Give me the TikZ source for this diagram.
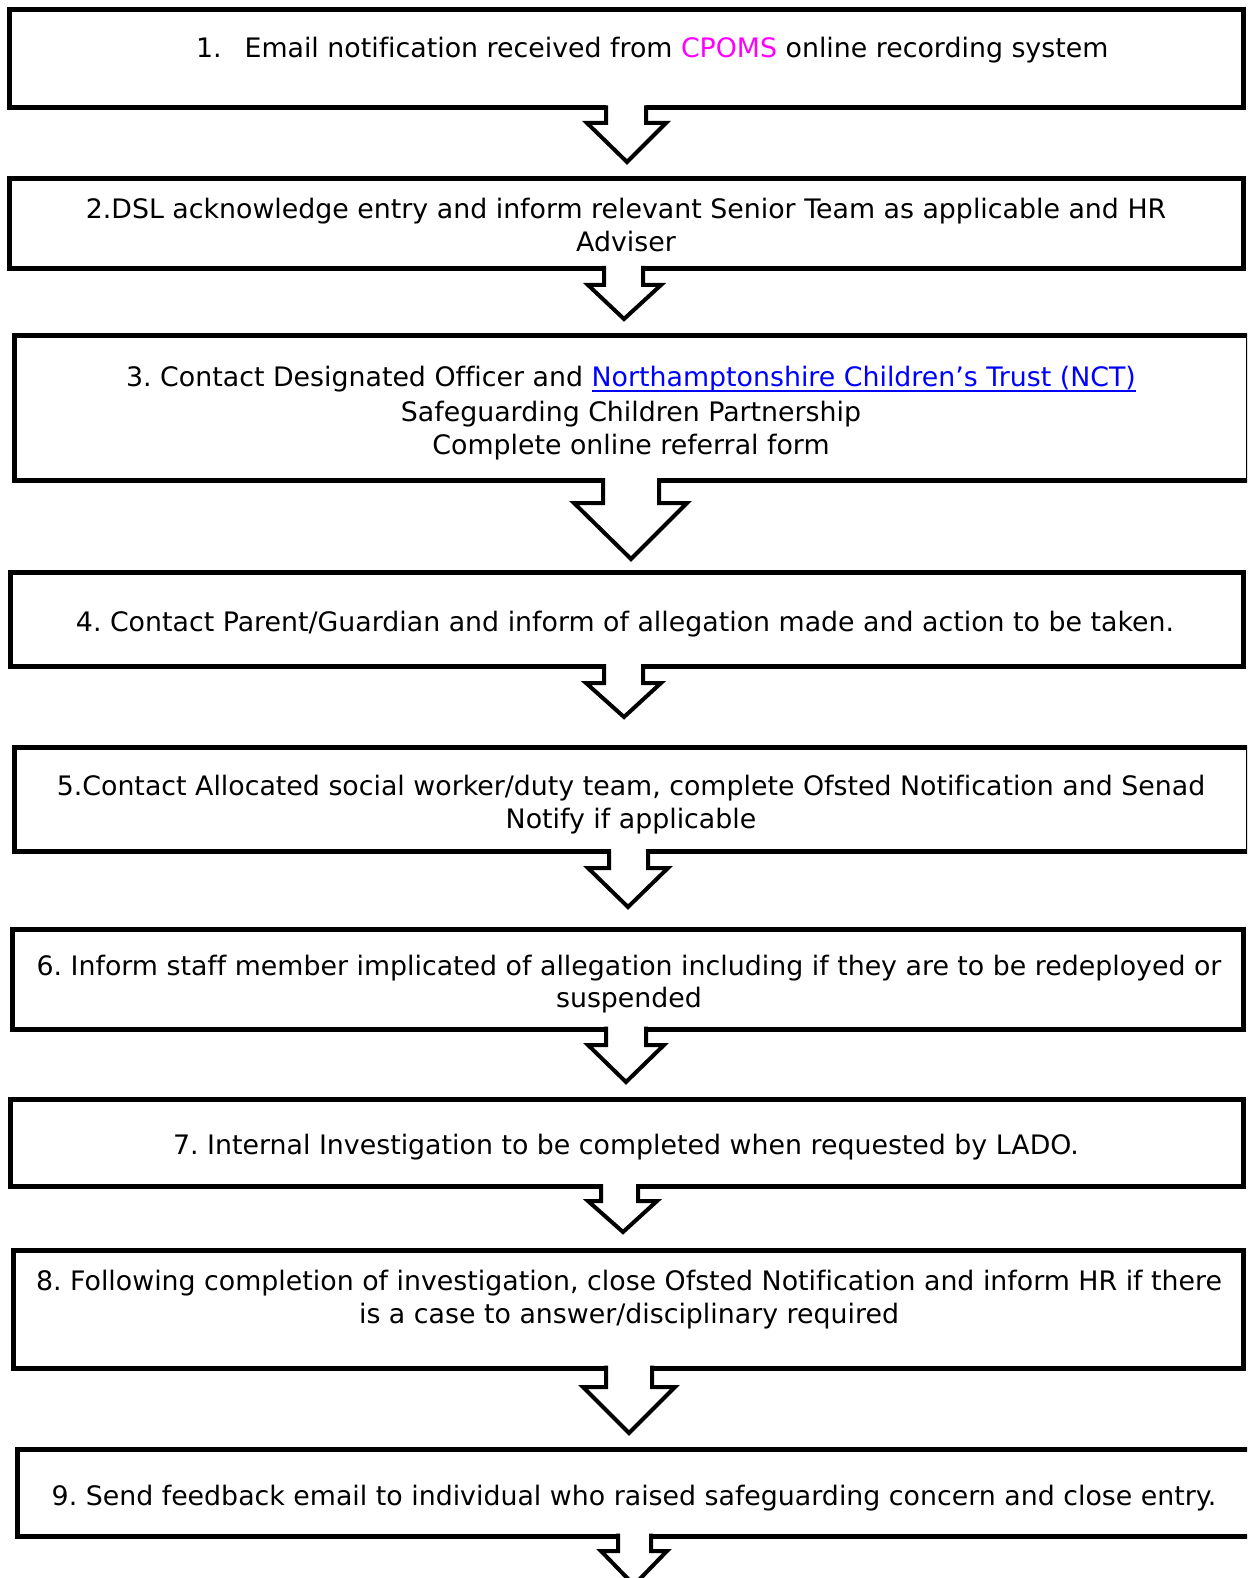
\documentclass[tikz,border=0pt]{standalone}
\usepackage{fontspec}
\setmainfont[Ligatures=NoCommon]{DejaVu Sans}
\definecolor{cpoms}{RGB}{255,0,255}
\definecolor{linkblue}{RGB}{0,0,255}
\newsavebox\ulbox
\newcommand\ulink[1]{\sbox\ulbox{#1}\rlap{\vrule width\wd\ulbox height -3pt depth 5pt}\usebox\ulbox}
\newcommand\mkbox[5]{\node[flowbox, minimum width={#4-#2}, minimum height={#5-#3}] (#1) at ({(#2+#4)/2},{(#3+#5)/2}) {};}
% block arrow: top y, stem left, stem right, shoulder y, head left, head right, tip x, tip y
\newcommand\blockarr[8]{%
  \fill[white] (#2,#1-3) -- (#2,#4) -- (#5,#4) -- (#7,#8) -- (#6,#4) -- (#3,#4) -- (#3,#1-3) -- cycle;
  \draw[arrline] (#2,#1-2.5) -- (#2,#4) -- (#5,#4) -- (#7,#8) -- (#6,#4) -- (#3,#4) -- (#3,#1-2.5);}
\begin{document}
\frenchspacing
\begin{tikzpicture}[x=1pt,y=-1pt,
  flowbox/.style={draw=black, line width=5pt, fill=white, inner sep=0pt, outer sep=0pt},
  arrline/.style={draw=black, line width=4pt, line join=miter},
  txt/.style={inner sep=0pt, outer sep=0pt, font=\fontsize{26.8}{33}\selectfont\frenchspacing, anchor=base}]
\useasboundingbox (0,0) rectangle (1247,1578);
\clip (0,0) rectangle (1247,1578);
\fill[white] (0,0) rectangle (1247,1578);
% boxes
\mkbox{b1}{9.5}{9.5}{1243}{108}
\mkbox{b2}{9.5}{179}{1243}{268.5}
\mkbox{b3}{14}{335}{1248}{480.5}
\mkbox{b4}{10}{572.5}{1243}{666.5}
\mkbox{b5}{14}{747}{1248}{851.5}
\mkbox{b6}{12}{929.5}{1243}{1029}
\mkbox{b7}{10}{1099}{1243}{1186.5}
\mkbox{b8}{13}{1250}{1243}{1368}
\mkbox{b9}{17}{1449}{1270}{1536}
% arrows
\blockarr{108}{606}{646}{123}{587}{666}{627}{162}
\blockarr{268.5}{604}{643}{285}{588}{661}{624}{319}
\blockarr{480.5}{603}{659}{503}{574}{687}{631}{559}
\blockarr{666.5}{604}{643}{683}{586}{661}{624}{717}
\blockarr{851.5}{609}{648}{868}{588}{668}{628}{907}
\blockarr{1029}{606}{646}{1045}{588}{664}{626}{1082}
\blockarr{1186.5}{601}{638}{1201}{588}{657}{623}{1232}
\blockarr{1368}{606}{652}{1387}{583}{675}{629}{1433}
\blockarr{1536}{618}{651}{1551}{601}{667}{634}{1585}
% texts
\node[txt, anchor=base west] (t1) at (196,58) {1.\hspace{23pt}Email notification received from \textcolor{cpoms}{CPOMS} online recording system};
\node[txt] (t2a) at (626,219) {2.DSL acknowledge entry and inform relevant Senior Team as applicable and HR};
\node[txt] (t2b) at (626,252) {Adviser};
\node[txt] (t3a) at (631,386.5) {3. Contact Designated Officer and {\color{linkblue}\ulink{Northamptonshire Children’s Trust (NCT)}}};
\node[txt] (t3b) at (631,421.5) {Safeguarding Children Partnership};
\node[txt] (t3c) at (631,454) {Complete online referral form};
\node[txt] (t4) at (625,631.5) {4. Contact Parent/Guardian and inform of allegation made and action to be taken.};
\node[txt] (t5a) at (631,795.5) {5.Contact Allocated social worker/duty team, complete Ofsted Notification and Senad};
\node[txt] (t5b) at (631,828.5) {Notify if applicable};
\node[txt] (t6a) at (629,975.5) {6. Inform staff member implicated of allegation including if they are to be redeployed or};
\node[txt] (t6b) at (629,1007.5) {suspended};
\node[txt] (t7) at (626,1154.5) {7. Internal Investigation to be completed when requested by LADO.};
\node[txt] (t8a) at (629,1290.5) {8. Following completion of investigation, close Ofsted Notification and inform HR if there};
\node[txt] (t8b) at (629,1323.5) {is a case to answer/disciplinary required};
\node[txt] (t9) at (634,1505) {9. Send feedback email to individual who raised safeguarding concern and close entry.};
\end{tikzpicture}
\end{document}
